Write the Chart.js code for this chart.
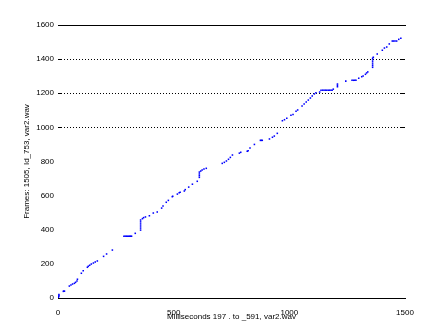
<!DOCTYPE html>
<html>
<head>
<meta charset="utf-8">
<script src="https://cdn.jsdelivr.net/npm/chart.js@4"></script>
<style>
  html, body { margin: 0; padding: 0; background: #fff; }
  #wrap { width: 447px; height: 335px; }
</style>
</head>
<body>
<div id="wrap"><canvas id="frameChart"></canvas></div>
<script>
// values
const msValues = [
    1, 3, 4, 4, 23, 25, 28, 49, 56, 63, 71, 76, 82, 84, 101, 109, 127, 131, 137, 144,
    153, 161, 170, 197, 210, 235, 285, 290, 295, 300, 305, 310, 314, 318, 334,
    357, 357, 357, 357, 357, 357, 365, 370, 378, 395, 412, 429, 448, 454, 468, 477,
    494, 496, 516, 524, 528, 546, 550, 565, 581, 602, 611, 611, 611, 611, 617, 623,
    631, 641, 710, 719, 728, 737, 745, 754, 784, 790, 818, 822, 830, 849, 875, 879,
    883, 914, 927, 935, 948, 970, 979, 989, 1007, 1016, 1029, 1036, 1055, 1064, 1073,
    1082, 1091, 1099, 1108, 1115, 1131, 1137, 1144, 1150, 1156, 1162, 1168, 1174, 1180,
    1185, 1190, 1208, 1208, 1208, 1244, 1271, 1277, 1283, 1288, 1300, 1313, 1319, 1329,
    1334, 1339, 1360, 1360, 1360, 1360, 1360, 1360, 1363, 1380, 1402, 1411, 1421, 1432,
    1445, 1451, 1457, 1464, 1473, 1482
];
const frameValues = [
    4, 8, 14, 20, 39, 40, 40, 70, 76, 82, 86, 92, 100, 110, 145, 160, 180, 186, 192, 199,
    205, 211, 217, 244, 258, 281, 362, 362, 362, 362, 362, 362, 362, 362, 379,
    398, 410, 422, 434, 446, 457, 465, 471, 475, 482, 498, 504, 527, 539, 561, 572,
    594, 596, 609, 617, 620, 627, 635, 650, 667, 684, 707, 717, 727, 738, 744, 750,
    756, 760, 789, 795, 803, 813, 824, 838, 849, 854, 860, 863, 879, 900, 924, 924,
    924, 932, 942, 949, 965, 1039, 1045, 1053, 1071, 1076, 1094, 1102, 1125, 1137, 1149,
    1160, 1172, 1184, 1196, 1203, 1207, 1218, 1218, 1218, 1218, 1218, 1218, 1218, 1218,
    1218, 1224, 1238, 1246, 1254, 1271, 1276, 1276, 1276, 1276, 1288, 1297, 1301, 1311,
    1319, 1325, 1352, 1362, 1372, 1384, 1395, 1405, 1411, 1430, 1452, 1465, 1471, 1489,
    1506, 1506, 1506, 1506, 1516, 1522
];
const xTicks = [0, 500, 1000, 1500];
const yTicks = [0, 200, 400, 600, 800, 1000, 1200, 1400, 1600];
const gridValues = [1000, 1200, 1400];

const xTitle = 'Milliseconds 197 . to _591, var2.wav';
const yTitle = 'Frames: 1505, Id_753, var2.wav';

const points = msValues.map((x, i) => ({ x: x, y: frameValues[i] }));
const tickFont = { family: 'Liberation Sans, Arial, sans-serif', size: 8 };

// small inward tick marks at the dotted grid lines, left and right
const innerTicks = {
    id: 'innerTicks',
    afterDraw(chart) {
        const ctx = chart.ctx;
        const area = chart.chartArea;
        const yScale = chart.scales.y;
        ctx.save();
        ctx.strokeStyle = '#000';
        ctx.lineWidth = 1;
        gridValues.forEach(v => {
            const py = Math.round(yScale.getPixelForValue(v)) + 0.5;
            ctx.beginPath();
            ctx.moveTo(area.left, py);
            ctx.lineTo(area.left + 4, py);
            ctx.moveTo(area.right - 4, py);
            ctx.lineTo(area.right, py);
            ctx.stroke();
        });
        ctx.restore();
    }
};

new Chart(document.getElementById('frameChart').getContext('2d'), {
    type: 'scatter',
    data: {
        datasets: [{
            data: points,
            backgroundColor: '#0000ff',
            borderColor: '#0000ff',
            borderWidth: 0,
            pointStyle: 'rect',
            pointRadius: 1.1
        }]
    },
    options: {
        responsive: true,
        maintainAspectRatio: false,
        animation: false,
        layout: { padding: { left: 0, right: 42, top: 25, bottom: 0 } },
        plugins: {
            legend: { display: false },
            tooltip: { enabled: false }
        },
        scales: {
            x: {
                type: 'linear',
                position: 'bottom',
                min: 0,
                max: 1500,
                afterBuildTicks: (scale) => { scale.ticks = xTicks.map(v => ({ value: v })); },
                afterFit: (scale) => { scale.height = 37; },
                grid: { display: false },
                border: { display: true, color: '#000', width: 1 },
                ticks: { color: '#000', font: tickFont, padding: 2, maxRotation: 0, callback: (v) => String(v) },
                title: {
                    display: true,
                    text: xTitle,
                    color: '#000',
                    font: tickFont,
                    padding: { top: 0, bottom: 13 }
                }
            },
            xTop: {
                type: 'linear',
                position: 'top',
                min: 0,
                max: 1500,
                afterFit: (scale) => { scale.height = 0; },
                grid: { display: false },
                border: { display: true, color: '#000', width: 1 },
                ticks: { display: false }
            },
            y: {
                type: 'linear',
                min: 0,
                max: 1600,
                afterBuildTicks: (scale) => { scale.ticks = yTicks.map(v => ({ value: v })); },
                afterFit: (scale) => { scale.width = 58; },
                grid: {
                    drawTicks: false,
                    lineWidth: 1,
                    color: (ctx) => gridValues.includes(ctx.tick && ctx.tick.value) ? '#000' : 'rgba(0,0,0,0)'
                },
                border: { display: false, dash: [1, 2] },
                ticks: { color: '#000', font: tickFont, padding: 4, callback: (v) => String(v) },
                title: {
                    display: true,
                    text: yTitle,
                    color: '#000',
                    font: tickFont,
                    padding: { top: 22, bottom: 0 }
                }
            }
        }
    },
    plugins: [innerTicks]
});
</script>
</body>
</html>
